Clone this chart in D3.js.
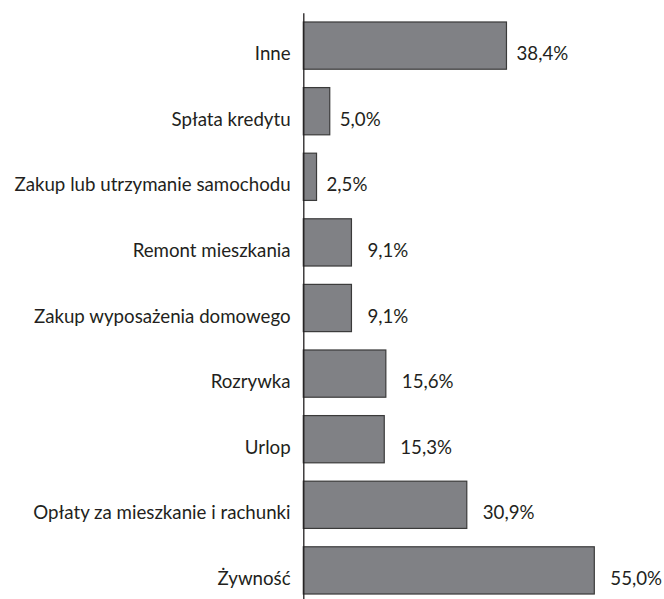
<!DOCTYPE html>
<html>
<head>
<meta charset="utf-8">
<script src="https://cdn.jsdelivr.net/npm/d3@7"></script>
<style>
  body { margin: 0; background: #fff; }
  text { font-family: Lato, "Open Sans", sans-serif; fill: #231f20; }
</style>
</head>
<body>
<div id="chart"></div>
<script>
// data
const categories = [
  'Inne',
  'Spłata kredytu',
  'Zakup lub utrzymanie samochodu',
  'Remont mieszkania',
  'Zakup wyposażenia domowego',
  'Rozrywka',
  'Urlop',
  'Opłaty za mieszkanie i rachunki',
  'Żywność'
];
const shares = [38.4, 5.0, 2.5, 9.1, 9.1, 15.6, 15.3, 30.9, 55.0];

const width = 664;
const height = 599;
const fontSize = 18.7;

const svg = d3.select('#chart')
  .append('svg')
  .attr('width', width)
  .attr('height', height);

// scales
const x = d3.scaleLinear()
  .domain([0, 55])
  .range([303.3, 594.3]);

const y = d3.scaleBand()
  .domain(categories)
  .range([12.8, 603.2])
  .paddingInner(0.28)
  .paddingOuter(0.14);

const rows = categories.map((c, i) => ({ name: c, value: shares[i] }));

// bars
svg.selectAll('.bar')
  .data(rows)
  .enter()
  .append('rect')
  .attr('class', 'bar')
  .attr('x', x(0))
  .attr('y', d => y(d.name))
  .attr('width', d => x(d.value) - x(0))
  .attr('height', y.bandwidth())
  .attr('fill', '#808185')
  .attr('stroke', '#3a3a3a')
  .attr('stroke-width', 1.2);

// category axis, labels sit in the lower half of each bar
const axis = svg.append('g')
  .attr('transform', `translate(${x(0)},0)`)
  .call(d3.axisLeft(y).tickSize(0).tickPadding(12.7));

axis.attr('font-family', null);

axis.select('.domain')
  .attr('stroke', '#231f20')
  .attr('stroke-width', 1.3);

axis.selectAll('.tick text')
  .attr('dy', null)
  .attr('y', 14.5)
  .style('font-size', fontSize + 'px');

// value labels (first three sit closer to their bars)
const fmt = v => v.toFixed(1).replace('.', ',') + '%';

svg.selectAll('.value')
  .data(rows)
  .enter()
  .append('text')
  .attr('class', 'value')
  .attr('x', (d, i) => x(d.value) + (i < 3 ? 10 : 16))
  .attr('y', d => y(d.name) + y.bandwidth() / 2 + 14.5)
  .style('font-size', fontSize + 'px')
  .text(d => fmt(d.value));
</script>
</body>
</html>
